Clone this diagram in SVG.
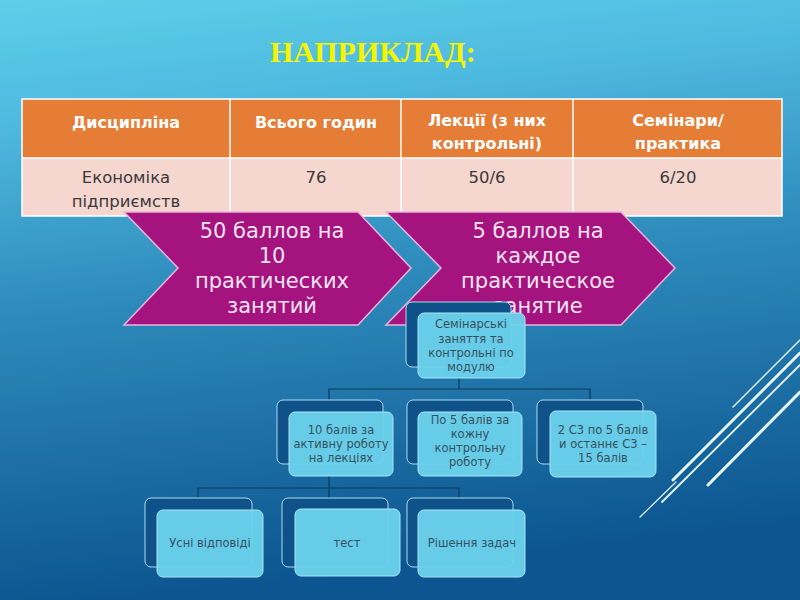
<svg xmlns="http://www.w3.org/2000/svg" width="800" height="600" viewBox="0 0 800 600">
<defs>
<linearGradient id="bg" x1="0" y1="0" x2="0.15" y2="1">
<stop offset="0" stop-color="#5ccfea"/>
<stop offset="0.2" stop-color="#4fbadf"/>
<stop offset="0.5" stop-color="#2f8cbd"/>
<stop offset="1" stop-color="#0c5590"/>
</linearGradient>
<style>
.title{font-family:"Liberation Serif",serif;font-weight:bold;font-size:30px;fill:#f5f500}
.th{font-family:"DejaVu Sans",sans-serif;font-weight:bold;font-size:16px;fill:#ffffff;text-anchor:middle}
.td{font-family:"DejaVu Sans",sans-serif;font-size:16.5px;fill:#3a3a3a;text-anchor:middle}
.chev{fill:#a5137f;stroke:#e8b5da;stroke-width:1.5}
.ct{font-family:"DejaVu Sans",sans-serif;font-size:21px;fill:#f7e3f1;text-anchor:middle}
.back{fill:#0f5289;stroke:#a8dcef;stroke-width:1}
.front{fill:#6cd3ec;fill-opacity:0.95;stroke:#a8e6f5;stroke-width:1}
.nt{font-family:"DejaVu Sans",sans-serif;font-size:11.5px;fill:#36505e;text-anchor:middle}
.conn{fill:none;stroke:#0d3a5a;stroke-width:1.2}
.deco{stroke:#e6f6fc;stroke-linecap:round}
</style>
</defs>
<rect width="800" height="600" fill="url(#bg)"/>
<g id="decor">
<line class="deco" x1="733" y1="407" x2="800" y2="340" stroke-width="1.5"/>
<line class="deco" x1="673" y1="480" x2="800" y2="353" stroke-width="3"/>
<line class="deco" x1="662" y1="502" x2="800" y2="365" stroke-width="1.8"/>
<line class="deco" x1="640" y1="517" x2="676" y2="482" stroke-width="1.2"/>
<line class="deco" x1="708" y1="485" x2="800" y2="392" stroke-width="3"/>
</g>
<text class="title" x="270" y="62">НАПРИКЛАД:</text>
<g id="table">
<rect x="22" y="99" width="760" height="59" fill="#e57d36"/>
<rect x="22" y="158" width="760" height="58" fill="#f5d7cf"/>
<g stroke="#ffffff" stroke-width="1.5">
<line x1="22" y1="158" x2="782" y2="158"/>
<line x1="230" y1="99" x2="230" y2="216"/>
<line x1="401" y1="99" x2="401" y2="216"/>
<line x1="573" y1="99" x2="573" y2="216"/>
<rect x="22" y="99" width="760" height="117" fill="none"/>
</g>
<text class="th" x="126" y="128">Дисципліна</text>
<text class="th" x="316" y="128">Всього годин</text>
<text class="th" x="487" y="126">Лекції (з них</text>
<text class="th" x="487" y="149">контрольні)</text>
<text class="th" x="678" y="126">Семінари/</text>
<text class="th" x="678" y="149">практика</text>
<text class="td" x="126" y="183">Економіка</text>
<text class="td" x="126" y="207">підприємств</text>
<text class="td" x="316" y="183">76</text>
<text class="td" x="487" y="183">50/6</text>
<text class="td" x="678" y="183">6/20</text>
</g>
<g id="chevron1">
<polygon class="chev" points="124,212 358,212 411,268 358,325 124,325 178,268"/>
<text class="ct" x="272" y="238">50 баллов на</text>
<text class="ct" x="272" y="263">10</text>
<text class="ct" x="272" y="288">практических</text>
<text class="ct" x="272" y="313">занятий</text>
</g>
<g id="chevron2">
<polygon class="chev" points="386,212 621,212 675,268 621,325 386,325 441,268"/>
<text class="ct" x="538" y="238">5 баллов на</text>
<text class="ct" x="538" y="263">каждое</text>
<text class="ct" x="538" y="288">практическое</text>
<text class="ct" x="538" y="313">занятие</text>
</g>
<g id="connectors">
<path class="conn" d="M459,378 V389 M329,400 V389 H590 V400"/>
<path class="conn" d="M329,476 V488 M198,498 V488 H459 V498 M329,488 V498"/>
</g>
<g id="node-top">
<rect class="back" x="406" y="302" width="105" height="65" rx="6"/>
<rect class="front" x="418" y="313" width="107" height="65" rx="6"/>
<text class="nt" x="471" y="328">Семінарські</text>
<text class="nt" x="471" y="343">заняття та</text>
<text class="nt" x="471" y="357">контрольні по</text>
<text class="nt" x="471" y="371">модулю</text>
</g>
<g id="node-lectures">
<rect class="back" x="277" y="400" width="106" height="64" rx="6"/>
<rect class="front" x="289" y="412" width="104" height="64" rx="6"/>
<text class="nt" x="341" y="434">10 балів за</text>
<text class="nt" x="341" y="448">активну роботу</text>
<text class="nt" x="341" y="462">на лекціях</text>
</g>
<g id="node-control">
<rect class="back" x="407" y="400" width="106" height="64" rx="6"/>
<rect class="front" x="418" y="412" width="104" height="64" rx="6"/>
<text class="nt" x="470" y="424">По 5 балів за</text>
<text class="nt" x="470" y="438">кожну</text>
<text class="nt" x="470" y="452">контрольну</text>
<text class="nt" x="470" y="466">роботу</text>
</g>
<g id="node-seminars">
<rect class="back" x="537" y="400" width="106" height="64" rx="6"/>
<rect class="front" x="550" y="411" width="106" height="66" rx="6"/>
<text class="nt" x="603" y="434">2 С3 по 5 балів</text>
<text class="nt" x="603" y="448">и останнє С3 –</text>
<text class="nt" x="603" y="462">15 балів</text>
</g>
<g id="node-oral">
<rect class="back" x="145" y="498" width="107" height="69" rx="6"/>
<rect class="front" x="157" y="510" width="106" height="67" rx="6"/>
<text class="nt" x="210" y="547">Усні відповіді</text>
</g>
<g id="node-test">
<rect class="back" x="282" y="498" width="106" height="69" rx="6"/>
<rect class="front" x="295" y="509" width="105" height="67" rx="6"/>
<text class="nt" x="347" y="547">тест</text>
</g>
<g id="node-tasks">
<rect class="back" x="407" y="498" width="106" height="69" rx="6"/>
<rect class="front" x="418" y="510" width="107" height="67" rx="6"/>
<text class="nt" x="472" y="547">Рішення задач</text>
</g>
</svg>
